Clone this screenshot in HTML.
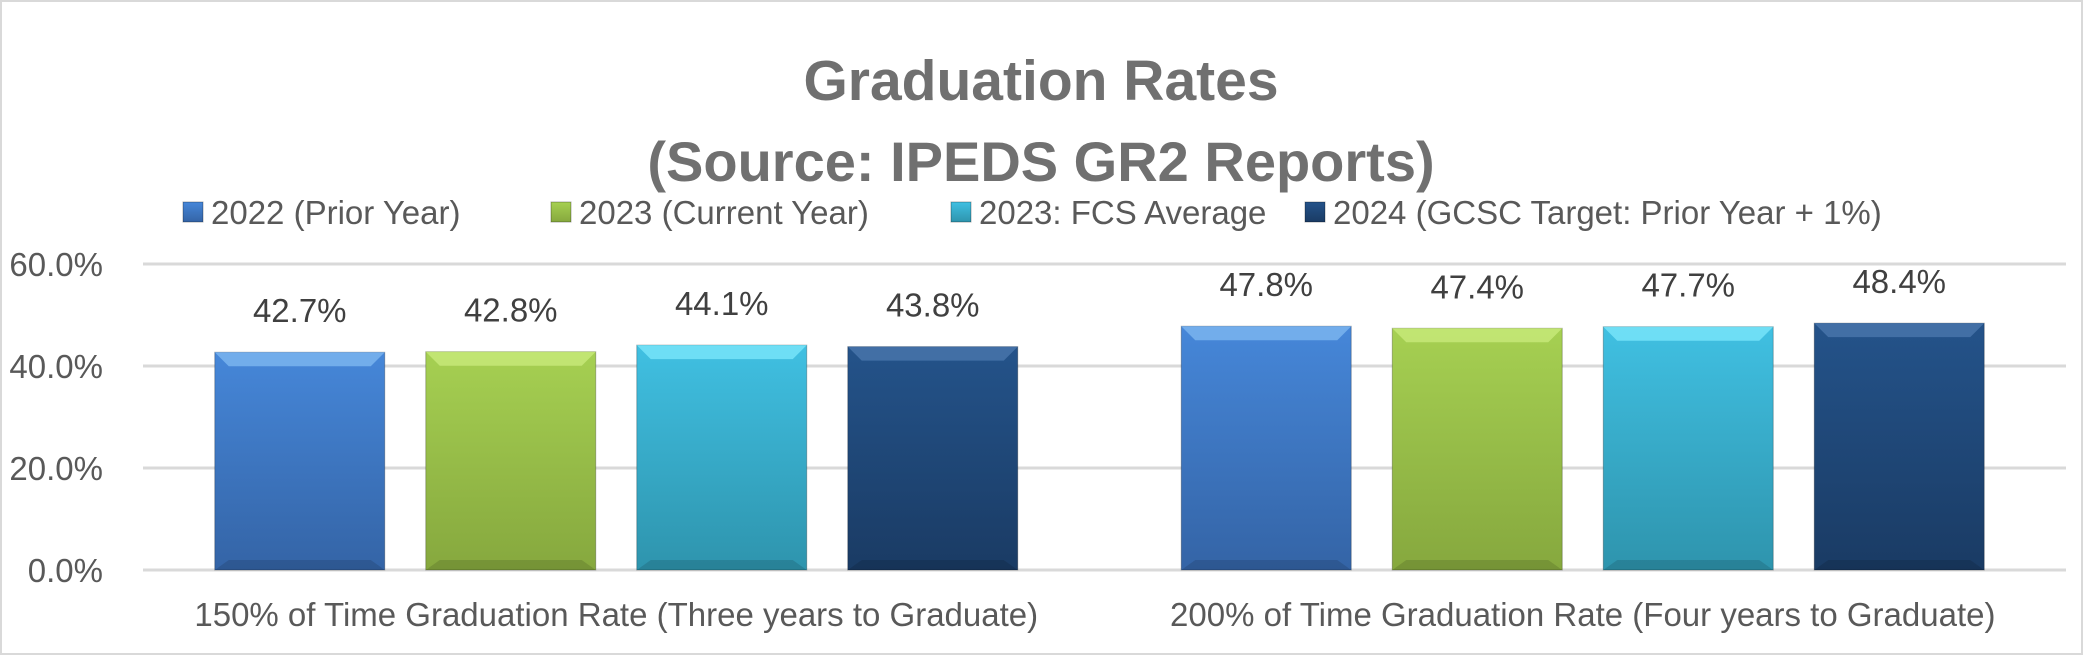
<!DOCTYPE html>
<html><head><meta charset="utf-8"><style>
body{margin:0;background:#fff;}
svg{display:block;font-family:"Liberation Sans",sans-serif;}
</style></head><body>
<svg id="chart" width="2083" height="655" viewBox="0 0 2083 655">
<defs>
<linearGradient id="g0" x1="0" y1="0" x2="0" y2="1"><stop offset="0" stop-color="#4687d9"/><stop offset="1" stop-color="#3464a6"/></linearGradient>
<linearGradient id="g1" x1="0" y1="0" x2="0" y2="1"><stop offset="0" stop-color="#a6d052"/><stop offset="1" stop-color="#86a83e"/></linearGradient>
<linearGradient id="g2" x1="0" y1="0" x2="0" y2="1"><stop offset="0" stop-color="#40c0e2"/><stop offset="1" stop-color="#2e94ad"/></linearGradient>
<linearGradient id="g3" x1="0" y1="0" x2="0" y2="1"><stop offset="0" stop-color="#24538a"/><stop offset="1" stop-color="#1a3b64"/></linearGradient>
</defs>
<rect x="1" y="1" width="2081" height="653" fill="#fff" stroke="#d9d9d9" stroke-width="2"/>
<text x="1041" y="100" text-anchor="middle" font-size="57" font-weight="bold" fill="#707070">Graduation Rates</text>
<text x="1041" y="181" text-anchor="middle" font-size="56" font-weight="bold" fill="#707070">(Source: IPEDS GR2 Reports)</text>
<g id="grid"></g><g id="bars"></g><g id="legend"></g>
</svg>
<script>
const categories=["150% of Time Graduation Rate (Three years to Graduate)","200% of Time Graduation Rate (Four years to Graduate)"];
const seriesNames=["2022 (Prior Year)","2023 (Current Year)","2023: FCS Average","2024 (GCSC Target: Prior Year + 1%)"];
const s2022=[42.7,47.8];
const s2023=[42.8,47.4];
const sFCS=[44.1,47.7];
const s2024=[43.8,48.4];
const yTicks=[0,20,40,60];
const series=[s2022,s2023,sFCS,s2024];
const NS="http://www.w3.org/2000/svg";
const L=133,R=2066,T=264,B=570,yMax=60;
const y=v=>B-(v/yMax)*(B-T);
const catW=(R-L)/categories.length;
const barW=170,pitch=211;
const fills=["url(#g0)","url(#g1)","url(#g2)","url(#g3)"];
const tops=["#7db7f0","#c8ea7a","#7ae6fa","#4a77ad"];
function mk(tag,attrs,parent){const e=document.createElementNS(NS,tag);for(const k in attrs)e.setAttribute(k,attrs[k]);parent.appendChild(e);return e;}
const grid=document.getElementById('grid'),bars=document.getElementById('bars'),leg=document.getElementById('legend');
yTicks.forEach(t=>{
 const l=mk('line',{x1:L+10,x2:R,y1:y(t),y2:y(t),stroke:'#d9d9d9','stroke-width':3},grid);
 
 
 const tx=mk('text',{x:103,y:y(t)+12,'text-anchor':'end','font-size':33,fill:'#595959'},grid);
 tx.textContent=t.toFixed(1)+'%';
 
 
});
categories.forEach((c,ci)=>{
 const cx=L+catW*(ci+0.5);
 series.forEach((s,si)=>{
  const x=cx-1.5*pitch-barW/2+si*pitch, yt=y(s[ci]);
  const g=mk('g',{},bars);
  
  
  mk('rect',{x:x,y:yt,width:barW,height:B-yt,fill:fills[si],stroke:'rgba(0,0,0,0.25)','stroke-width':1},g);
  mk('polygon',{points:`${x},${yt} ${x+barW},${yt} ${x+barW-14},${yt+14} ${x+14},${yt+14}`,fill:tops[si],opacity:0.8},g);
  mk('polygon',{points:`${x},${B} ${x+barW},${B} ${x+barW-14},${B-10} ${x+14},${B-10}`,fill:'rgba(0,0,0,0.12)'},g);
  const lb=mk('text',{x:x+barW/2,y:yt-30,'text-anchor':'middle','font-size':33,fill:'#404040'},bars);
  lb.textContent=s[ci].toFixed(1)+'%';
  
  
 });
 const ct=mk('text',{x:cx,y:626,'text-anchor':'middle','font-size':33,fill:'#595959'},bars);
 ct.textContent=c;
 
 
});
const legX=[183,551,951,1305];
seriesNames.forEach((n,i)=>{
 const g=mk('g',{},leg);
 
 
 mk('rect',{x:legX[i],y:202,width:20,height:20,fill:fills[i],stroke:'rgba(0,0,0,0.3)'},g);
 const t=mk('text',{x:legX[i]+28,y:224,'font-size':33,fill:'#595959'},g);
 t.textContent=n;
});
</script>
</body></html>
